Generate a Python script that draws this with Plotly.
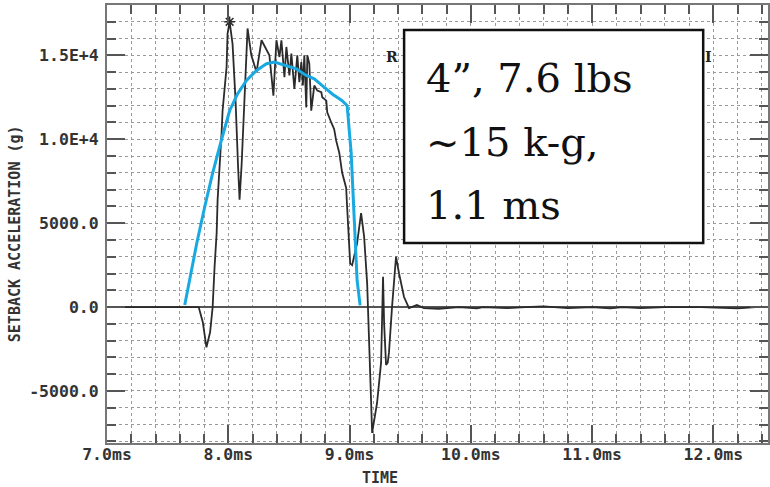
import plotly.graph_objects as go

# ---- data: measured setback acceleration (g) vs time (ms)
meas_t = [7.00, 7.30, 7.60, 7.756, 7.79, 7.82, 7.85, 7.871, 7.887, 7.904, 7.912, 7.929,
          7.945, 7.953, 7.986, 7.994, 8.011, 8.035, 8.06, 8.08, 8.093, 8.11, 8.13, 8.15,
          8.159, 8.19, 8.233, 8.274, 8.315, 8.339, 8.372, 8.397, 8.422, 8.438, 8.463,
          8.479, 8.504, 8.52, 8.545, 8.569, 8.586, 8.602, 8.615, 8.627, 8.643, 8.652,
          8.668, 8.684, 8.709, 8.734, 8.767, 8.775, 8.808, 8.816, 8.849, 8.873, 8.89,
          8.915, 8.939, 8.972, 8.98, 8.988, 8.997, 9.005, 9.021, 9.062, 9.095, 9.12,
          9.145, 9.161, 9.177, 9.186, 9.227, 9.26, 9.268, 9.276, 9.285, 9.301, 9.315,
          9.325, 9.35, 9.383, 9.408, 9.449, 9.49, 9.555, 9.613, 9.736, 9.90, 10.05,
          10.10, 10.30, 10.45, 10.60, 10.80, 11.00, 11.15, 11.25, 11.40, 11.60, 11.90,
          12.20, 12.35, 12.45]
meas_g = [0, 0, 0, 0, -900, -2400, -1500, 0, 2400, 4400, 6400, 8300,
          10400, 11700, 14300, 16300, 17000, 15700, 12300, 8500, 6400, 8500, 12000, 15500,
          16600, 15000, 14000, 15900, 15300, 15000, 12600, 15900, 14900, 15900, 13700,
          15500, 13800, 15100, 13000, 15000, 13400, 14600, 13200, 15000, 11900, 15000,
          14500, 11700, 13200, 12900, 12800, 12500, 12300, 11600, 11000, 10600, 9900,
          9200, 8000, 7100, 5950, 4600, 3400, 2600, 2500, 3800, 5600, 4200,
          1400, -1500, -5500, -7500, -5700, -3300, -950, 1800, -1000, -3450, -3300,
          -2700, 0, 3000, 2000, 600, -60, 120, -60, -100, 0, -80,
          0, -60, 0, 40, -60, 0, -80, 0, -60, 0, 0,
          -80, 0, 0]

# ---- data: idealized pulse approximation
fit_t = [7.641, 7.740, 7.805, 7.871, 7.945, 8.011, 8.076, 8.150, 8.233, 8.315, 8.380,
         8.479, 8.561, 8.643, 8.709, 8.775, 8.857, 8.939, 8.980, 9.013, 9.038, 9.062, 9.087]
fit_g = [120, 3800, 5950, 7980, 10000, 11700, 12700, 13500, 14100, 14500, 14600,
         14400, 14200, 13800, 13600, 13200, 12700, 12300, 12000, 9200, 5200, 1600, 100]

peak_t = [8.011]
peak_g = [17000]

x_tickvals = [7, 8, 9, 10, 11, 12]
x_ticktext = ["7.0ms", "8.0ms", "9.0ms", "10.0ms", "11.0ms", "12.0ms"]
y_tickvals = [-5000, 0, 5000, 10000, 15000]
y_ticktext = ["-5000.0", "0.0", "5000.0", "1.0E+4", "1.5E+4"]

note_lines = ["4\u201d, 7.6 lbs", "~15 k-g,", "1.1 ms"]

fig = go.Figure()
fig.add_trace(go.Scatter(x=meas_t, y=meas_g, mode="lines",
                         line=dict(color="#2b2b2b", width=1.8), showlegend=False))
fig.add_trace(go.Scatter(x=fit_t, y=fit_g, mode="lines",
                         line=dict(color="#19a9e1", width=3), showlegend=False))
fig.add_trace(go.Scatter(x=peak_t, y=peak_g, mode="markers",
                         marker=dict(symbol="asterisk-open", size=9, color="#2b2b2b",
                                     line=dict(color="#2b2b2b", width=1.5)),
                         showlegend=False))

mono = dict(family="DejaVu Sans Mono", size=16.5, color="#333333", weight="bold")
mono_title = dict(family="DejaVu Sans Mono", size=15, color="#333333", weight="bold")

fig.update_xaxes(range=[7.0, 12.45], showline=True, linecolor="#777777", linewidth=2,
                 mirror="ticks", ticks="inside", ticklen=18, tickwidth=2, tickcolor="#555555",
                 tickvals=x_tickvals, ticktext=x_ticktext, tickfont=mono,
                 ticklabelstandoff=-5,
                 showgrid=True, gridcolor="#9a9a9a", griddash="dot", gridwidth=1,
                 zeroline=False,
                 minor=dict(dtick=0.2, ticks="inside", ticklen=9, tickwidth=2,
                            tickcolor="#555555", showgrid=True, gridcolor="#9a9a9a",
                            griddash="dot", gridwidth=1))
fig.update_yaxes(range=[-8100, 18000], showline=True, linecolor="#777777", linewidth=2,
                 mirror="ticks", ticks="inside", ticklen=18, tickwidth=2, tickcolor="#555555",
                 tickvals=y_tickvals, ticktext=y_ticktext, tickfont=mono,
                 ticklabelstandoff=3,
                 showgrid=True, gridcolor="#9a9a9a", griddash="dot", gridwidth=1,
                 zeroline=True, zerolinecolor="#555555", zerolinewidth=1.5,
                 minor=dict(dtick=1000, tick0=0, ticks="inside", ticklen=9, tickwidth=2,
                            tickcolor="#555555", showgrid=True, gridcolor="#9a9a9a",
                            griddash="dot", gridwidth=1))

ann = []
ann.append(dict(text="SETBACK ACCELERATION (g)", x=-0.139, y=0.477, xref="paper", yref="paper",
                textangle=-90, showarrow=False, xanchor="center", yanchor="middle",
                font=mono_title))
ann.append(dict(text="TIME", x=0.413, y=-0.08, xref="paper", yref="paper",
                showarrow=False, xanchor="center", yanchor="middle", font=mono_title))
ann.append(dict(text="R", x=(393 - 107) / 663, y=(443 - 57) / 438, xref="paper", yref="paper",
                showarrow=False, xanchor="center", yanchor="middle",
                font=dict(family="DejaVu Serif", size=14, color="#222", weight="bold")))
ann.append(dict(text="I", x=(710 - 107) / 663, y=(443 - 57) / 438, xref="paper", yref="paper",
                showarrow=False, xanchor="center", yanchor="middle",
                font=dict(family="DejaVu Serif", size=14, color="#222", weight="bold")))
for i, line in enumerate(note_lines):
    ann.append(dict(text=line, x=(425 - 107) / 663, y=(443 - (78 + 63.5 * i)) / 438,
                    xref="paper", yref="paper", showarrow=False, xanchor="left",
                    yanchor="middle", align="left",
                    font=dict(family="DejaVu Serif", size=40, color="#111111")))

fig.update_layout(
    width=770, height=487,
    margin=dict(l=107, r=0, t=5, b=44),
    paper_bgcolor="white", plot_bgcolor="white",
    annotations=ann,
    shapes=[dict(type="rect", xref="paper", yref="paper",
                 x0=(405 - 107) / 663, x1=(705 - 107) / 663,
                 y0=(443 - 243) / 438, y1=(443 - 30) / 438,
                 line=dict(color="#111111", width=2.5), fillcolor="white", layer="above")],
)

fig.write_html("out.html", config={"displayModeBar": False},
               post_script="document.body.style.margin='0px';document.body.style.overflow='hidden';")
